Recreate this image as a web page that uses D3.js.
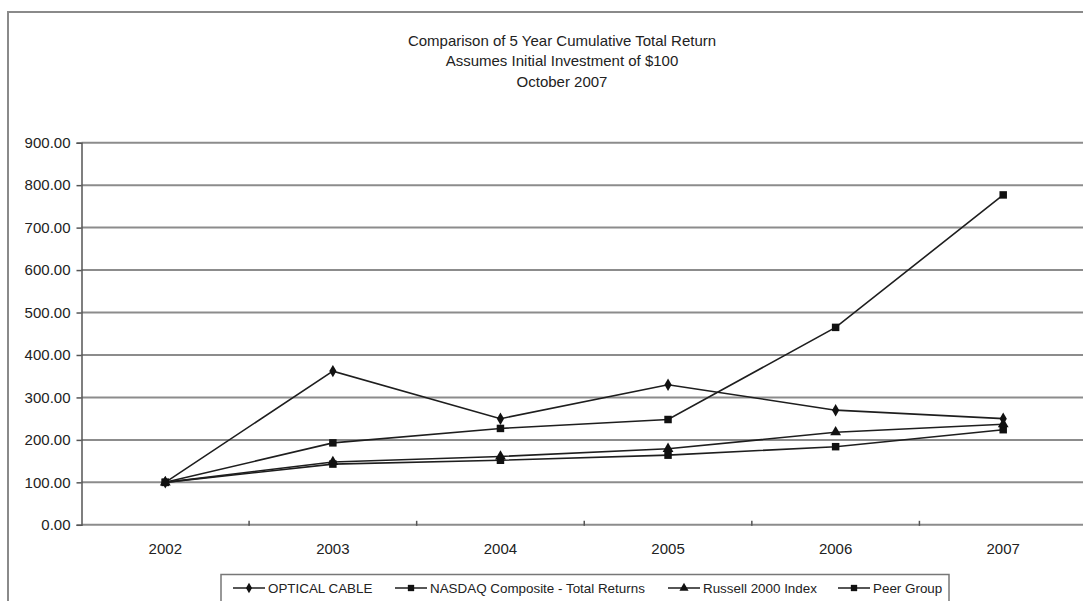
<!DOCTYPE html>
<html>
<head>
<meta charset="utf-8">
<script src="https://cdn.jsdelivr.net/npm/d3@7"></script>
<style>
  html, body { margin: 0; padding: 0; background: #fff; overflow: hidden; }
  svg { display: block; font-family: "Liberation Sans", Arial, sans-serif; }
</style>
</head>
<body>
<svg id="chart" width="1083" height="601"></svg>
<script>
const years = ["2002", "2003", "2004", "2005", "2006", "2007"];
const seriesNames = ["OPTICAL CABLE", "NASDAQ Composite - Total Returns", "Russell 2000 Index", "Peer Group"];
const opticalCable = [100, 362, 250, 330, 270, 250];
const nasdaq = [100, 143, 152, 164, 184, 224];
const russell = [100, 148, 161, 179, 218, 237];
const peerGroup = [100, 193, 227, 248, 465, 777];
const yTicks = [0, 100, 200, 300, 400, 500, 600, 700, 800, 900];
const titleLines = ["Comparison of 5 Year Cumulative Total Return", "Assumes Initial Investment of $100", "October 2007"];

(function () {
const series = [
  { name: seriesNames[0], values: opticalCable, marker: "diamond" },
  { name: seriesNames[1], values: nasdaq, marker: "square" },
  { name: seriesNames[2], values: russell, marker: "triangle" },
  { name: seriesNames[3], values: peerGroup, marker: "square" }
];

const svg = d3.select("#chart");
const gridColor = "#8c8c8c";
const lineColor = "#1e1e1e";

svg.append("rect")
  .attr("x", 8).attr("y", 12)
  .attr("width", 1200).attr("height", 700)
  .attr("fill", "none").attr("stroke", "#8a8a8a").attr("stroke-width", 2);

svg.append("g").selectAll("text").data(titleLines).join("text")
  .attr("x", 562).attr("y", (d, i) => 45.5 + i * 20.5)
  .attr("text-anchor", "middle")
  .attr("font-size", 15)
  .attr("fill", "#222")
  .text(d => d);

const plotLeft = 81.5, plotRight = 1087, plotTop = 142.7, plotBottom = 524.8;

const x = d3.scaleBand().domain(years).range([plotLeft, plotRight]).padding(0);
const y = d3.scaleLinear().domain([0, 900]).range([plotBottom, plotTop]);
const cx = d => x(d) + x.bandwidth() / 2;

svg.append("g").selectAll("line").data(yTicks).join("line")
  .attr("x1", plotLeft).attr("x2", plotRight)
  .attr("y1", d => y(d)).attr("y2", d => y(d))
  .attr("stroke", gridColor).attr("stroke-width", 2);

const yAxis = svg.append("g")
  .attr("transform", `translate(${plotLeft},0)`)
  .call(d3.axisLeft(y).tickValues(yTicks).tickFormat(d3.format(".2f")).tickSize(5).tickPadding(6));
yAxis.select(".domain").attr("stroke", "#555").attr("stroke-width", 1.5);
yAxis.selectAll(".tick line").attr("stroke", "#555").attr("stroke-width", 1.5);
yAxis.selectAll("text").attr("font-size", 15).attr("fill", "#222")
  .attr("font-family", "'Liberation Sans', Arial, sans-serif");

const xAxis = svg.append("g")
  .attr("transform", `translate(0,${plotBottom})`)
  .call(d3.axisBottom(x).tickSize(0).tickPadding(19));
xAxis.select(".domain").remove();
xAxis.selectAll("text").attr("font-size", 15).attr("fill", "#222")
  .attr("font-family", "'Liberation Sans', Arial, sans-serif");

svg.append("g").selectAll("line").data(years.slice(1)).join("line")
  .attr("x1", d => x(d)).attr("x2", d => x(d))
  .attr("y1", plotBottom - 4).attr("y2", plotBottom + 1)
  .attr("stroke", "#555").attr("stroke-width", 1.5);

function drawMarker(sel, type, size) {
  const sym = type === "diamond" ? d3.symbolDiamond : type === "triangle" ? d3.symbolTriangle : d3.symbolSquare;
  const area = type === "diamond" ? size * 0.8 : type === "triangle" ? size * 0.9 : size;
  sel.append("path").attr("d", d3.symbol().type(sym).size(area)()).attr("fill", "#111");
}

const line = d3.line().x((d, i) => cx(years[i])).y(d => y(d));

series.forEach(s => {
  svg.append("path")
    .datum(s.values)
    .attr("d", line)
    .attr("fill", "none")
    .attr("stroke", lineColor)
    .attr("stroke-width", 1.6);
});
series.forEach(s => {
  const g = svg.append("g");
  s.values.forEach((v, i) => {
    const m = g.append("g").attr("transform", `translate(${cx(years[i])},${y(v)})`);
    drawMarker(m, s.marker, 56);
  });
});

const legend = svg.append("g");
legend.append("rect")
  .attr("x", 221).attr("y", 574.5).attr("width", 728).attr("height", 40)
  .attr("fill", "#fff").attr("stroke", "#777").attr("stroke-width", 1.5);
const legendX = [233, 395, 668, 838];
series.forEach((s, i) => {
  const g = legend.append("g").attr("transform", `translate(${legendX[i]},588)`);
  g.append("line").attr("x1", 0).attr("x2", 32).attr("y1", 0).attr("y2", 0)
    .attr("stroke", lineColor).attr("stroke-width", 1.5);
  const m = g.append("g").attr("transform", "translate(16,0)");
  drawMarker(m, s.marker, 40);
  g.append("text").attr("x", 35).attr("y", 5)
    .attr("font-size", 13.4).attr("fill", "#222").text(s.name);
});
})();
</script>
</body>
</html>
